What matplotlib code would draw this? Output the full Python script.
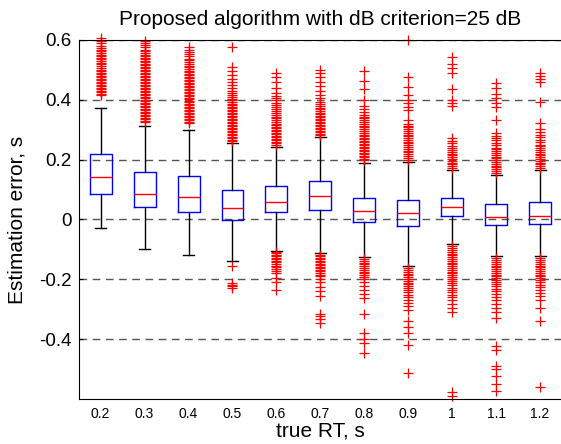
import matplotlib
matplotlib.use('Agg')
import matplotlib.pyplot as plt

plt.rcParams['font.family'] = ['Liberation Sans', 'DejaVu Sans']

# valores de tiempo de reverberacion real (eje x)
rt_labels = ['0.2', '0.3', '0.4', '0.5', '0.6', '0.7', '0.8', '0.9', '1', '1.1', '1.2']

# estadisticos de cada caja
medianas = [0.142, 0.085, 0.075, 0.040, 0.059, 0.079, 0.029, 0.022, 0.041, 0.008, 0.012]
q1 = [0.085, 0.041, 0.026, -0.001, 0.025, 0.032, -0.009, -0.023, 0.010, -0.020, -0.014]
q3 = [0.219, 0.158, 0.146, 0.099, 0.111, 0.129, 0.073, 0.066, 0.073, 0.051, 0.058]
bigote_inf = [-0.030, -0.098, -0.119, -0.138, -0.104, -0.112, -0.125, -0.157, -0.082, -0.123, -0.123]
bigote_sup = [0.371, 0.313, 0.299, 0.255, 0.241, 0.277, 0.188, 0.193, 0.166, 0.149, 0.166]

# valores atipicos (cruces rojas)
atipicos = [
    [0.415, 0.42, 0.425, 0.43, 0.436, 0.44, 0.445, 0.45, 0.455, 0.46, 0.465, 0.47, 0.476,
     0.48, 0.485, 0.49, 0.495, 0.50, 0.506, 0.512, 0.518, 0.524, 0.53, 0.535, 0.54, 0.545,
     0.55, 0.556, 0.562, 0.568, 0.574, 0.58, 0.59, 0.598, 0.605],
    [0.325, 0.33, 0.335, 0.34, 0.345, 0.35, 0.355, 0.36, 0.365, 0.37, 0.375, 0.38, 0.385,
     0.39, 0.395, 0.40, 0.405, 0.41, 0.415, 0.42, 0.425, 0.43, 0.435, 0.44, 0.445, 0.45,
     0.455, 0.46, 0.465, 0.47, 0.475, 0.48, 0.485, 0.49, 0.495, 0.50, 0.505, 0.51, 0.515,
     0.52, 0.525, 0.53, 0.535, 0.54, 0.545, 0.55, 0.556, 0.562, 0.568, 0.575, 0.582, 0.59,
     0.598],
    [0.322, 0.327, 0.332, 0.337, 0.342, 0.347, 0.352, 0.357, 0.362, 0.367, 0.372, 0.377,
     0.382, 0.387, 0.392, 0.397, 0.402, 0.407, 0.412, 0.417, 0.422, 0.427, 0.432, 0.437,
     0.442, 0.447, 0.452, 0.457, 0.462, 0.467, 0.472, 0.477, 0.482, 0.487, 0.492, 0.497,
     0.502, 0.508, 0.514, 0.52, 0.526, 0.532, 0.538, 0.545, 0.552, 0.56, 0.568, 0.575],
    [0.262, 0.267, 0.272, 0.277, 0.282, 0.287, 0.292, 0.297, 0.302, 0.307, 0.312, 0.317,
     0.322, 0.327, 0.332, 0.337, 0.342, 0.347, 0.352, 0.357, 0.362, 0.367, 0.372, 0.377,
     0.382, 0.387, 0.392, 0.398, 0.404, 0.41, 0.416, 0.422, 0.43, 0.44, 0.45, 0.46, 0.47,
     0.482, 0.495, 0.51, 0.577,
     -0.157, -0.214, -0.219, -0.224, -0.23],
    [0.25, 0.255, 0.26, 0.265, 0.27, 0.275, 0.28, 0.285, 0.29, 0.295, 0.30, 0.305, 0.31,
     0.315, 0.32, 0.326, 0.332, 0.338, 0.344, 0.35, 0.356, 0.362, 0.368, 0.375, 0.382,
     0.39, 0.398, 0.406, 0.414, 0.422, 0.44, 0.458, 0.475, 0.488,
     -0.108, -0.113, -0.118, -0.123, -0.128, -0.133, -0.138, -0.143, -0.148, -0.154,
     -0.16, -0.166, -0.172, -0.18, -0.195, -0.21, -0.235],
    [0.282, 0.287, 0.292, 0.297, 0.302, 0.307, 0.312, 0.317, 0.322, 0.327, 0.332, 0.337,
     0.342, 0.347, 0.352, 0.357, 0.362, 0.368, 0.374, 0.38, 0.386, 0.394, 0.405, 0.415,
     0.43, 0.445, 0.46, 0.475, 0.488, 0.499,
     -0.118, -0.123, -0.128, -0.133, -0.138, -0.143, -0.148, -0.153, -0.158, -0.163,
     -0.168, -0.173, -0.178, -0.184, -0.19, -0.198, -0.21, -0.225, -0.24, -0.257, -0.316,
     -0.324, -0.332, -0.345],
    [0.198, 0.203, 0.208, 0.213, 0.218, 0.223, 0.228, 0.233, 0.238, 0.243, 0.248, 0.253,
     0.258, 0.263, 0.268, 0.273, 0.278, 0.284, 0.29, 0.296, 0.302, 0.308, 0.314, 0.32,
     0.326, 0.332, 0.338, 0.344, 0.35, 0.36, 0.37, 0.38, 0.40, 0.435, 0.464, 0.497,
     -0.132, -0.138, -0.144, -0.15, -0.156, -0.162, -0.168, -0.174, -0.18, -0.186, -0.193,
     -0.2, -0.21, -0.222, -0.235, -0.248, -0.261, -0.315, -0.381, -0.40, -0.412, -0.445],
    [0.2, 0.206, 0.212, 0.218, 0.224, 0.23, 0.236, 0.242, 0.248, 0.254, 0.26, 0.266, 0.272,
     0.278, 0.284, 0.29, 0.296, 0.302, 0.308, 0.314, 0.32, 0.332, 0.366, 0.377, 0.388,
     0.399, 0.416, 0.443, 0.477, 0.599,
     -0.163, -0.169, -0.175, -0.181, -0.187, -0.193, -0.199, -0.205, -0.211, -0.217,
     -0.223, -0.229, -0.236, -0.244, -0.252, -0.26, -0.268, -0.278, -0.29, -0.301, -0.34,
     -0.36, -0.38, -0.418, -0.514],
    [0.172, 0.178, 0.184, 0.19, 0.196, 0.202, 0.208, 0.214, 0.22, 0.226, 0.232, 0.238,
     0.246, 0.255, 0.263, 0.271, 0.38, 0.39, 0.399, 0.436, 0.488, 0.505, 0.521, 0.543,
     -0.09, -0.096, -0.102, -0.108, -0.114, -0.12, -0.126, -0.132, -0.138, -0.144, -0.15,
     -0.156, -0.162, -0.168, -0.174, -0.18, -0.186, -0.192, -0.198, -0.205, -0.212, -0.22,
     -0.228, -0.236, -0.244, -0.252, -0.26, -0.27, -0.282, -0.295, -0.31, -0.577, -0.59],
    [0.156, 0.162, 0.168, 0.174, 0.18, 0.186, 0.192, 0.198, 0.204, 0.21, 0.216, 0.222,
     0.228, 0.234, 0.24, 0.248, 0.256, 0.264, 0.272, 0.28, 0.288, 0.332, 0.377, 0.39,
     0.405, 0.42, 0.44, 0.455,
     -0.13, -0.136, -0.142, -0.148, -0.154, -0.16, -0.166, -0.172, -0.178, -0.184, -0.19,
     -0.196, -0.202, -0.208, -0.216, -0.224, -0.232, -0.24, -0.25, -0.26, -0.27, -0.282,
     -0.295, -0.31, -0.329, -0.423, -0.436, -0.49, -0.5, -0.523, -0.55, -0.573],
    [0.172, 0.178, 0.184, 0.19, 0.196, 0.202, 0.208, 0.214, 0.22, 0.226, 0.232, 0.238,
     0.244, 0.25, 0.258, 0.266, 0.274, 0.282, 0.292, 0.304, 0.321, 0.393, 0.46, 0.47,
     0.478, 0.488,
     -0.13, -0.136, -0.142, -0.148, -0.154, -0.16, -0.166, -0.172, -0.178, -0.184, -0.19,
     -0.196, -0.202, -0.21, -0.218, -0.226, -0.236, -0.246, -0.256, -0.268, -0.295, -0.34,
     -0.559],
]

stats = []
for i in range(len(rt_labels)):
    stats.append({
        'med': medianas[i],
        'q1': q1[i],
        'q3': q3[i],
        'whislo': bigote_inf[i],
        'whishi': bigote_sup[i],
        'fliers': atipicos[i],
    })

fig = plt.figure(figsize=(5.61, 4.44), dpi=100)
ax = fig.add_axes([0.1403, 0.1014, 0.8615, 0.8086])

ax.bxp(stats, positions=range(1, len(rt_labels) + 1), widths=0.5, capwidths=0.25,
       boxprops=dict(color='blue', linewidth=1),
       medianprops=dict(color='red', linewidth=1),
       whiskerprops=dict(color='black', linewidth=1),
       capprops=dict(color='black', linewidth=1),
       flierprops=dict(marker='+', markeredgecolor='red', markersize=7,
                       markeredgewidth=0.9, linestyle='none'))

for ln in ax.lines:
    if ln.get_marker() == '+':
        ln.set_clip_on(False)

ax.set_xlim(0.5, len(rt_labels) + 0.5)
ax.set_ylim(-0.6, 0.6)
ax.set_yticks([-0.4, -0.2, 0, 0.2, 0.4, 0.6])
ax.set_yticklabels(['-0.4', '-0.2', '0', '0.2', '0.4', '0.6'])
ax.set_xticks(range(1, len(rt_labels) + 1))
ax.set_xticklabels(rt_labels)
ax.tick_params(axis='y', direction='in', length=3, labelsize=13.5, pad=5)
ax.tick_params(axis='x', length=0, labelsize=10, pad=6)
ax.yaxis.grid(True, linestyle=(0, (5.5, 4)), color='#555555', linewidth=1)
ax.set_axisbelow(True)

ax.set_title('Proposed algorithm with dB criterion=25 dB', fontsize=15, pad=11)
ax.set_xlabel('true RT, s', fontsize=15, labelpad=0)
ax.set_ylabel('Estimation error, s', fontsize=15, labelpad=9)

plt.savefig('out.png', dpi=100)
